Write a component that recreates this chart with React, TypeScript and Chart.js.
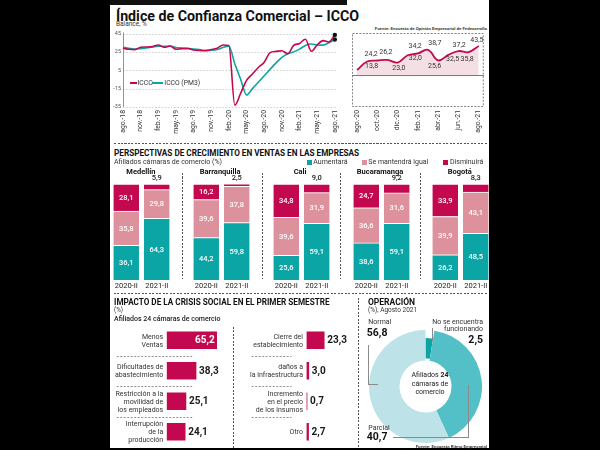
import React, { useEffect, useRef } from "react";
import { Chart, registerables } from "chart.js";

Chart.register(...registerables);

const FONT = "Roboto, 'Liberation Sans', Arial, sans-serif";
Chart.defaults.font.family = FONT;

const CRIMSON = "#c3084f";
const TEAL = "#0aa5a4";
const PINK = "#dc919c";
const INK = "#222";

// ---------------- Data ----------------
const iccoMonths = [
  "ago.-18", "sep.-18", "oct.-18", "nov.-18", "dic.-18", "ene.-19", "feb.-19", "mar.-19", "abr.-19", "may.-19", "jun.-19", "jul.-19",
  "ago.-19", "sep.-19", "oct.-19", "nov.-19", "dic.-19", "ene.-20", "feb.-20", "mar.-20", "abr.-20", "may.-20", "jun.-20", "jul.-20",
  "ago.-20", "sep.-20", "oct.-20", "nov.-20", "dic.-20", "ene.-21", "feb.-21", "mar.-21", "abr.-21", "may.-21", "jun.-21", "jul.-21", "ago.-21",
];
const iccoValues = [
  28.9, 27.8, 27.5, 30.0, 30.3, 30.7, 32.5, 30.0, 31.4, 27.8, 28.5, 28.9,
  27.0, 26.5, 26.3, 27.5, 29.0, 32.5, 32.0, -33.0, -20.0, -6.0, 1.0, 8.0,
  13.8, 24.2, 25.5, 26.2, 23.0, 32.0, 34.2, 38.7, 25.6, 32.5, 37.2, 35.8, 43.5,
];
const iccoPm3Values = [
  30.0, 29.0, 28.0, 28.5, 29.2, 30.3, 31.2, 31.0, 31.3, 29.7, 29.2, 28.4,
  28.1, 27.5, 26.6, 26.8, 27.6, 29.7, 31.2, 12.0, -5.0, -22.0, -15.0, -8.0,
  -1.0, 6.0, 13.0, 19.0, 23.0, 25.0, 28.0, 32.0, 33.5, 32.5, 32.3, 35.0, 38.5,
];
const iccoTickEvery = 3;

const recentMonths = ["ago.-20", "sep.-20", "oct.-20", "nov.-20", "dic.-20", "ene.-21", "feb.-21", "mar.-21", "abr.-21", "may.-21", "jun.-21", "jul.-21", "ago.-21"];
const recentValues = [13.8, 24.2, 25.5, 26.2, 23.0, 32.0, 34.2, 38.7, 25.6, 32.5, 37.2, 35.8, 43.5];
const recentLabelled = [true, true, false, true, true, true, true, true, true, true, true, true, true];
const recentTickEvery = 2;

const cities = ["Medellín", "Barranquilla", "Cali", "Bucaramanga", "Bogotá"];
const periods = ["2020-II", "2021-II"];
const aumentara = [[36.1, 64.3], [44.2, 59.8], [25.6, 59.1], [38.6, 59.1], [26.2, 48.5]];
const mantendra = [[35.8, 29.8], [39.6, 37.8], [39.6, 31.9], [36.6, 31.6], [39.9, 43.1]];
const disminuira = [[28.1, 5.9], [16.2, 2.5], [34.8, 9.0], [24.7, 9.2], [33.9, 8.3]];

const impactLeftLabels = [["Menos", "Ventas"], ["Dificultades de", "abastecimiento"], ["Restricción a la", "movilidad de", "los empleados"], ["Interrupción", "de la", "producción"]];
const impactLeftValues = [65.2, 38.3, 25.1, 24.1];
const impactRightLabels = [["Cierre del", "establecimiento"], ["daños a", "la infraestructura"], ["Incremento", "en el precio", "de los insumos"], ["Otro"]];
const impactRightValues = [23.3, 3.0, 0.7, 2.7];

const opLabels = ["No se encuentra funcionando", "Parcial", "Normal"];
const opValues = [2.5, 40.7, 56.8];

// ---------------- Styling / layout constants ----------------
const recentBaseline = 7.6;
const recentLabelOffsets: number[][] = [
  [14.5, -3.3], [4, -7.3], [0, 0], [-1.6, -7.3], [1.3, 5.5], [7.6, 3.5], [-2.8, -7.6],
  [6.8, -6.5], [-3.6, 5.5], [4.4, 4.5], [0.7, -5.5], [-1.4, 7], [-1.8, -5.8],
];
const cityLefts = [111.4, 190.6, 270.6, 350.6, 430.3];
const fmt = (v: number) => v.toFixed(1).replace(".", ",");

const baseOpts = {
  animation: false as const,
  responsive: true,
  maintainAspectRatio: false,
  events: [] as any[],
};

// ---------------- Plugins ----------------
const leftGrid = {
  id: "leftGrid",
  beforeDatasetsDraw(chart: any) {
    const { ctx, chartArea: a, scales } = chart;
    const y = scales.y;
    ctx.save();
    y.ticks.forEach((t: any) => {
      const py = Math.round(y.getPixelForValue(t.value)) + 0.5;
      ctx.beginPath();
      if (t.value === 0) {
        ctx.setLineDash([]);
        ctx.strokeStyle = "#8c8c8c";
        ctx.lineWidth = 1.1;
      } else {
        ctx.setLineDash([1.6, 1.6]);
        ctx.strokeStyle = "#bcbcbc";
        ctx.lineWidth = 0.7;
      }
      ctx.moveTo(a.left, py);
      ctx.lineTo(a.right + 1, py);
      ctx.stroke();
    });
    ctx.setLineDash([]);
    ctx.strokeStyle = "#777";
    ctx.lineWidth = 0.8;
    ctx.beginPath();
    ctx.moveTo(a.left + 0.5, a.top - 1);
    ctx.lineTo(a.left + 0.5, a.bottom);
    ctx.stroke();
    ctx.restore();
  },
};

const recentDecor = {
  id: "recentDecor",
  beforeDatasetsDraw(chart: any) {
    const { ctx, chartArea: a } = chart;
    ctx.save();
    ctx.setLineDash([2, 1.4]);
    ctx.strokeStyle = "#666";
    ctx.lineWidth = 0.8;
    ctx.strokeRect(a.left + 0.5, a.top + 0.5, a.right - a.left - 1, a.bottom - a.top - 1);
    ctx.restore();
  },
  afterDatasetsDraw(chart: any) {
    const { ctx, chartArea: a, scales } = chart;
    const by = Math.round(scales.y.getPixelForValue(recentBaseline)) + 0.5;
    ctx.save();
    ctx.strokeStyle = "#7a7a7a";
    ctx.lineWidth = 1;
    ctx.beginPath();
    ctx.moveTo(a.left, by);
    ctx.lineTo(a.right, by);
    ctx.stroke();
    ctx.font = `7px ${FONT}`;
    ctx.fillStyle = "#333";
    ctx.textAlign = "center";
    ctx.textBaseline = "middle";
    const meta = chart.getDatasetMeta(0);
    meta.data.forEach((pt: any, i: number) => {
      if (!recentLabelled[i]) return;
      const off = recentLabelOffsets[i];
      ctx.fillText(fmt(recentValues[i]), pt.x + off[0], pt.y + off[1]);
    });
    ctx.restore();
  },
};

const stackLabels = {
  id: "stackLabels",
  afterDatasetsDraw(chart: any) {
    const { ctx } = chart;
    ctx.save();
    ctx.font = `500 7.5px ${FONT}`;
    ctx.textAlign = "center";
    ctx.textBaseline = "middle";
    chart.data.datasets.forEach((ds: any, di: number) => {
      const meta = chart.getDatasetMeta(di);
      meta.data.forEach((bar: any, i: number) => {
        const v = ds.data[i] as number;
        const p = bar.getProps(["x", "y", "base"], true);
        if (v < 10) {
          ctx.fillStyle = "#222";
          ctx.fillText(fmt(v), p.x, p.y - 5.5);
        } else {
          ctx.fillStyle = "#fff";
          ctx.fillText(fmt(v), p.x, (p.y + p.base) / 2 + 0.5);
        }
      });
    });
    ctx.restore();
  },
};

const impactDecor = {
  id: "impactDecor",
  afterDatasetsDraw(chart: any, _args: any, opts: any) {
    const { ctx, chartArea: a } = chart;
    const meta = chart.getDatasetMeta(0);
    const vals = chart.data.datasets[0].data as number[];
    const labels = chart.data.labels as string[][];
    const ys = chart.scales.y;
    ctx.save();
    ctx.font = `7px ${FONT}`;
    ctx.fillStyle = "#333";
    ctx.textAlign = "right";
    ctx.textBaseline = "middle";
    const lh = 8;
    labels.forEach((lines, i) => {
      const cy = ys.getPixelForValue(i);
      lines.forEach((ln, k) => {
        ctx.fillText(ln, a.left - 3.5, cy + (k - (lines.length - 1) / 2) * lh + 0.5);
      });
    });
    ctx.font = `bold 10px ${FONT}`;
    meta.data.forEach((bar: any, i: number) => {
      const v = vals[i];
      const p = bar.getProps(["x", "y"], true);
      if (v > 50) {
        ctx.fillStyle = "#fff";
        ctx.textAlign = "right";
        ctx.fillText(fmt(v), p.x - 2, p.y + 0.5);
      } else {
        ctx.fillStyle = "#1a1a1a";
        ctx.textAlign = "left";
        ctx.fillText(fmt(v), p.x + 3, p.y + 0.5);
      }
    });
    ctx.strokeStyle = "#777";
    ctx.lineWidth = 0.8;
    ctx.setLineDash([2, 1.5]);
    for (let i = 0; i < vals.length - 1; i++) {
      const yy = Math.round((ys.getPixelForValue(i) + ys.getPixelForValue(i + 1)) / 2) + 0.5;
      ctx.beginPath();
      ctx.moveTo(opts.from, yy);
      ctx.lineTo(opts.to, yy);
      ctx.stroke();
    }
    ctx.restore();
  },
};

const opShrink = {
  id: "opShrink",
  afterDatasetUpdate(chart: any) {
    const arc = chart.getDatasetMeta(0).data[0];
    if (arc) {
      arc.outerRadius = arc.outerRadius - 8;
      arc.innerRadius = arc.innerRadius + 2;
    }
  },
};

// ---------------- Configs ----------------
function iccoConfig(): any {
  const last = iccoValues.length - 1;
  const common = {
    borderWidth: 1.6,
    pointRadius: (c: any) => (c.dataIndex === last ? 2.2 : 0),
    pointBackgroundColor: "#111",
    pointBorderWidth: 0,
    cubicInterpolationMode: "monotone",
    clip: false,
  };
  return {
    type: "line",
    data: {
      labels: iccoMonths,
      datasets: [
        { label: "ICCO", data: iccoValues, borderColor: CRIMSON, ...common },
        { label: "ICCO (PM3)", data: iccoPm3Values, borderColor: TEAL, ...common },
      ],
    },
    options: {
      ...baseOpts,
      layout: { padding: { top: 5.5, right: 6, left: 0, bottom: 0 } },
      plugins: { legend: { display: false }, tooltip: { enabled: false } },
      scales: {
        x: {
          grid: { display: false, drawTicks: false },
          border: { display: false },
          ticks: {
            autoSkip: false, minRotation: 90, maxRotation: 90, padding: 3,
            font: { size: 6.8 }, color: "#333",
            callback: (_v: any, i: number) => (i % iccoTickEvery === 0 ? iccoMonths[i] : ""),
          },
          afterFit: (s: any) => { s.height = 33; },
        },
        y: {
          min: -35, max: 45,
          grid: { display: false, drawTicks: false },
          border: { display: false },
          ticks: { stepSize: 10, font: { size: 5.5 }, color: "#555", padding: 2 },
          afterFit: (s: any) => { s.width = 13; },
        },
      },
    },
    plugins: [leftGrid],
  };
}

function recentConfig(): any {
  return {
    type: "line",
    data: {
      labels: recentMonths,
      datasets: [{
        data: recentValues, borderColor: CRIMSON, borderWidth: 1.8, pointRadius: 0,
        tension: 0.4, fill: { value: recentBaseline }, backgroundColor: "#f4dfe4", clip: false,
      }],
    },
    options: {
      ...baseOpts,
      layout: { padding: { top: 5, left: 2, right: 3, bottom: 0 } },
      plugins: { legend: { display: false }, tooltip: { enabled: false } },
      scales: {
        x: {
          offset: true,
          grid: { display: false, drawTicks: false },
          border: { display: false },
          ticks: {
            autoSkip: false, minRotation: 90, maxRotation: 90, padding: 3,
            font: { size: 6.8 }, color: "#333",
            callback: (_v: any, i: number) => (i % recentTickEvery === 0 ? recentMonths[i] : ""),
          },
          afterFit: (s: any) => { s.height = 33; },
        },
        y: { display: false, min: -32, max: 59.5 },
      },
    },
    plugins: [recentDecor],
  };
}

function cityConfig(ci: number): any {
  const seg = { barThickness: 25.5, borderWidth: { top: 1, left: 0, right: 0, bottom: 0 }, borderColor: "#fff", borderSkipped: false };
  return {
    type: "bar",
    data: {
      labels: periods,
      datasets: [
        { label: "Aumentará", data: aumentara[ci], backgroundColor: TEAL, ...seg },
        { label: "Se mantendrá igual", data: mantendra[ci], backgroundColor: PINK, ...seg },
        { label: "Disminuirá", data: disminuira[ci], backgroundColor: CRIMSON, ...seg },
      ],
    },
    options: {
      ...baseOpts,
      layout: { padding: { top: 14, left: 0, right: 0, bottom: 0 } },
      plugins: { legend: { display: false }, tooltip: { enabled: false } },
      scales: {
        x: {
          stacked: true,
          grid: { display: false, drawTicks: false },
          border: { display: false },
          ticks: { padding: 1.5, maxRotation: 0, font: { size: 7.5 }, color: "#222" },
          afterFit: (s: any) => { s.height = 11; },
        },
        y: { stacked: true, display: false, min: 0, max: 100 },
      },
    },
    plugins: [stackLabels],
  };
}

function impactConfig(labels: string[][], values: number[], o: { max: number; axisW: number; padRight: number; from: number; to: number }): any {
  return {
    type: "bar",
    data: { labels, datasets: [{ data: values, backgroundColor: CRIMSON, barThickness: 17 }] },
    options: {
      ...baseOpts,
      indexAxis: "y",
      layout: { padding: { right: o.padRight, left: o.axisW, top: 0, bottom: 0 } },
      plugins: { legend: { display: false }, tooltip: { enabled: false }, impactDecor: { from: o.from, to: o.to } },
      scales: {
        x: { display: false, min: 0, max: o.max },
        y: { display: false },
      },
    },
    plugins: [impactDecor],
  };
}

function opConfig(): any {
  return {
    type: "doughnut",
    data: {
      labels: opLabels,
      datasets: [{ data: opValues, backgroundColor: ["#0ea3a5", "#52c0c6", "#bde2e7"], borderWidth: 0 }],
    },
    options: {
      ...baseOpts,
      cutout: "46%",
      plugins: { legend: { display: false }, tooltip: { enabled: false } },
    },
    plugins: [opShrink],
  };
}

// ---------------- Components ----------------
function ChartBox({ left, top, width, height, make }: { left: number; top: number; width: number; height: number; make: () => any }) {
  const ref = useRef<HTMLCanvasElement>(null);
  useEffect(() => {
    const chart = new Chart(ref.current as HTMLCanvasElement, make());
    return () => chart.destroy();
  }, []);
  return (
    <div style={{ position: "absolute", left, top, width, height }}>
      <canvas ref={ref} />
    </div>
  );
}

type TxtProps = { x: number; y: number; size?: number; weight?: number; align?: "left" | "right" | "center"; color?: string; sx?: number; children: React.ReactNode };
function Txt({ x, y, size = 7, weight = 400, align = "left", color = INK, sx = 1, children }: TxtProps) {
  const tx = align === "center" ? "-50%" : align === "right" ? "-100%" : "0";
  const origin = align === "center" ? "center" : align === "right" ? "right" : "left";
  return (
    <div
      style={{
        position: "absolute", left: x, top: y - size * 0.6, fontSize: size, lineHeight: `${size * 1.2}px`,
        fontWeight: weight, color, whiteSpace: "nowrap", transform: `translateX(${tx}) scaleX(${sx})`,
        transformOrigin: `${origin} center`,
      }}
    >
      {children}
    </div>
  );
}

function HDash({ x, y, w, color = "#555", dash = 2, gap = 1.5 }: { x: number; y: number; w: number; color?: string; dash?: number; gap?: number }) {
  return (
    <div style={{ position: "absolute", left: x, top: y, width: w, height: 1, background: `repeating-linear-gradient(to right, ${color} 0 ${dash}px, transparent ${dash}px ${dash + gap}px)` }} />
  );
}
function VDash({ x, y, h, color = "#555", dash = 2, gap = 1.5 }: { x: number; y: number; h: number; color?: string; dash?: number; gap?: number }) {
  return (
    <div style={{ position: "absolute", left: x, top: y, width: 1, height: h, background: `repeating-linear-gradient(to bottom, ${color} 0 ${dash}px, transparent ${dash}px ${dash + gap}px)` }} />
  );
}
function Seg({ x, y, w, h, color }: { x: number; y: number; w: number; h: number; color: string }) {
  return <div style={{ position: "absolute", left: x, top: y, width: w, height: h, background: color }} />;
}

export default function App() {
  return (
    <div style={{ position: "fixed", left: 0, top: 0, width: 600, height: 450, background: "#000", overflow: "hidden", fontFamily: FONT, color: INK }}>
      <div style={{ position: "absolute", left: 110, top: 0, width: 379, height: 448, background: "#fff" }} />
      <div style={{ position: "absolute", left: 110, top: 0, width: 237, height: 5, background: "#111" }} />

      {/* ---- Top section ---- */}
      <Txt x={115.5} y={16.5} size={14.5} weight={700} sx={0.98} color="#111">Índice de Confianza Comercial – ICCO</Txt>
      <Txt x={116} y={25.3} size={6.5} color="#333">Balance, %</Txt>
      <Txt x={487} y={28.5} size={4.4} weight={600} align="right" color="#333">Fuente: Encuesta de Opinión Empresarial de Fedesarrollo</Txt>

      <ChartBox left={110} top={28} width={236} height={112} make={iccoConfig} />
      <ChartBox left={350} top={28} width={140} height={112} make={recentConfig} />

      <Seg x={130} y={82} w={7} h={1.6} color={CRIMSON} />
      <Txt x={137.5} y={82.7} size={6.8} color="#333">ICCO</Txt>
      <Seg x={152} y={82} w={11} h={1.6} color={TEAL} />
      <Txt x={164.3} y={82.7} size={6.8} color="#333">ICCO (PM3)</Txt>

      {/* ---- Middle section ---- */}
      <HDash x={114} y={143} w={374} />
      <Txt x={114} y={153.7} size={9} weight={700} sx={0.91} color="#111">PERSPECTIVAS DE CRECIMIENTO EN VENTAS EN LAS EMPRESAS</Txt>
      <Txt x={114} y={162.5} size={7} color="#333">Afiliados cámaras de comercio (%)</Txt>

      <Seg x={306.5} y={159.5} w={5} h={5} color={TEAL} />
      <Txt x={313.3} y={162.3} size={7} color="#333">Aumentará</Txt>
      <Seg x={361.7} y={159.5} w={5} h={5} color={PINK} />
      <Txt x={368.3} y={162.3} size={7} color="#333">Se mantendrá igual</Txt>
      <Seg x={443.3} y={159.5} w={5} h={5} color={CRIMSON} />
      <Txt x={450} y={162.3} size={7} color="#333">Disminuirá</Txt>

      {cities.map((c, ci) => (
        <React.Fragment key={c}>
          <Txt x={cityLefts[ci] + 29.5} y={171.6} size={7.5} weight={700} align="center" color="#111">{c}</Txt>
          <ChartBox left={cityLefts[ci]} top={170} width={61} height={121} make={() => cityConfig(ci)} />
        </React.Fragment>
      ))}
      <VDash x={181.5} y={173} h={106} />
      <VDash x={261.5} y={173} h={106} />
      <VDash x={340} y={173} h={106} />
      <VDash x={420} y={173} h={106} />
      <HDash x={114} y={293} w={374} />

      {/* ---- Bottom-left section ---- */}
      <Txt x={114} y={302.3} size={8.5} weight={700} sx={0.96} color="#111">IMPACTO DE LA CRISIS SOCIAL EN EL PRIMER SEMESTRE</Txt>
      <Txt x={114} y={311} size={6.3} color="#333">(%)</Txt>
      <Txt x={114} y={319} size={7} weight={500} color="#222">Afiliados 24 cámaras de comercio</Txt>

      <ChartBox left={112} top={324.5} width={116} height={122}
        make={() => impactConfig(impactLeftLabels, impactLeftValues, { max: 80, axisW: 54.7, padRight: 0, from: 4.7, to: 81.3 })} />
      <ChartBox left={236} top={324.5} width={125} height={122}
        make={() => impactConfig(impactRightLabels, impactRightValues, { max: 50, axisW: 70.5, padRight: 16.5, from: 15.7, to: 55.7 })} />
      <VDash x={232.5} y={327} h={121} />
      <VDash x={357.5} y={298} h={150} />

      {/* ---- Bottom-right section ---- */}
      <Txt x={368} y={302.5} size={8.5} weight={700} color="#111">OPERACIÓN</Txt>
      <Txt x={368} y={311.2} size={6.5} color="#333">(%), Agosto 2021</Txt>

      <ChartBox left={369} top={330} width={113} height={113} make={opConfig} />

      <Txt x={368.3} y={321.7} size={7} color="#333">Normal</Txt>
      <Txt x={366.8} y={333} size={10.5} weight={700} color="#111">56,8</Txt>
      <Seg x={368} y={345} w={0.8} h={39} color="#8a8a8a" />
      <Seg x={368} y={383.6} w={10} h={0.8} color="#8a8a8a" />

      <Txt x={483} y={321.7} size={7} align="right" color="#333">No se encuentra</Txt>
      <Txt x={483} y={329.3} size={7} align="right" color="#333">funcionando</Txt>
      <Txt x={483} y={340.3} size={10.5} weight={700} align="right" color="#111">2,5</Txt>
      <Seg x={432.3} y={327.5} w={0.8} h={13} color="#8a8a8a" />

      <Txt x={368.3} y={427.7} size={7} color="#333">Parcial</Txt>
      <Txt x={366.8} y={437} size={10.5} weight={700} color="#111">40,7</Txt>
      <Seg x={393} y={436.6} w={76} h={0.8} color="#8a8a8a" />
      <Seg x={468.2} y={385} w={0.8} h={52.4} color="#8a8a8a" />

      <Txt x={430} y={375.3} size={7} align="center" color="#222">Afiliados <b>24</b></Txt>
      <Txt x={430} y={383.7} size={7} align="center" color="#222">cámaras de</Txt>
      <Txt x={430} y={392} size={7} align="center" color="#222">comercio</Txt>

      <Txt x={487} y={446.3} size={4.4} weight={600} align="right" color="#333">Fuente: Encuesta Ritmo Empresarial</Txt>
    </div>
  );
}
